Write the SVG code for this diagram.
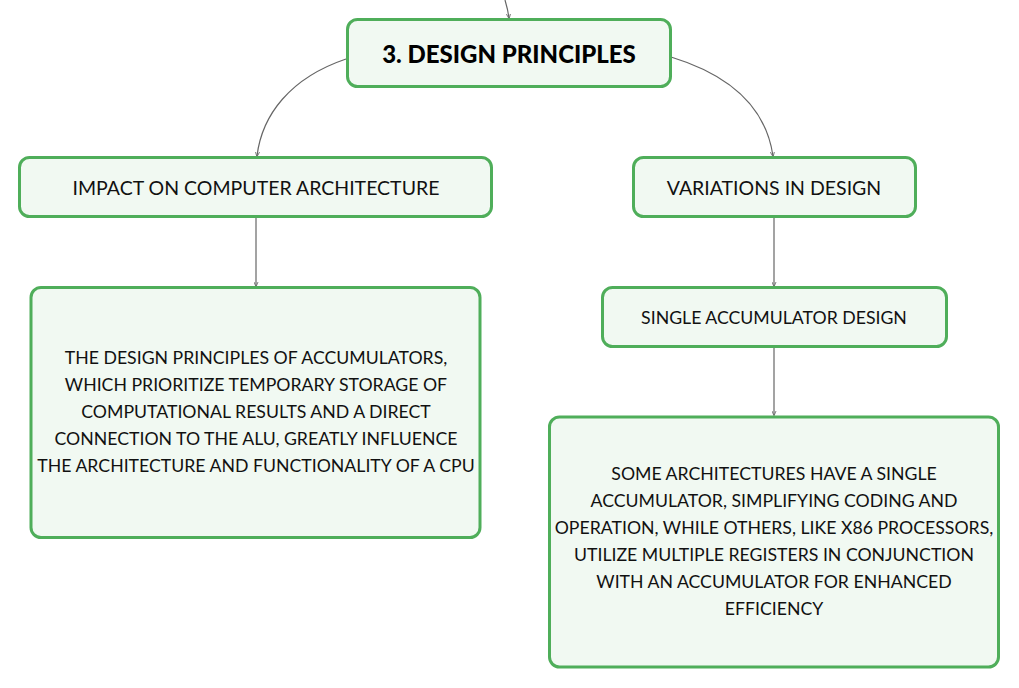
<svg xmlns="http://www.w3.org/2000/svg" width="1019" height="688" viewBox="0 0 1019 688">
<defs>
<style>
.box{fill:#f1f9f2;stroke:#4fae5a;stroke-width:3}
.t{font-family:Lato,"Noto Sans","Liberation Sans",sans-serif;font-size:17.7px;fill:#111;text-anchor:middle;dominant-baseline:central}
.h{font-size:19.5px}
.title{font-family:Lato,"Noto Sans","Liberation Sans",sans-serif;font-size:24px;font-weight:900;fill:#000;text-anchor:middle;dominant-baseline:central}
.c{fill:none;stroke:#666;stroke-width:1.2}
</style>
<marker id="ah" viewBox="0 0 6 6" refX="5" refY="3" markerWidth="5" markerHeight="5" orient="auto" markerUnits="userSpaceOnUse">
<path d="M0,0.5 L6,3 L0,5.5" fill="none" stroke="#666" stroke-width="1"/>
</marker>
</defs>
<rect width="1019" height="688" fill="#ffffff"/>
<g id="connectors">
<path class="c" d="M505,0 Q508,10 509,18" marker-end="url(#ah)"/>
<path class="c" d="M346,59 C290,78 262,115 257,156" marker-end="url(#ah)"/>
<path class="c" d="M671,57 C730,75 766,108 773,156" marker-end="url(#ah)"/>
<path class="c" d="M256,218 L256,286" marker-end="url(#ah)"/>
<path class="c" d="M774,218 L774,286" marker-end="url(#ah)"/>
<path class="c" d="M774,348 L774,415" marker-end="url(#ah)"/>
</g>
<g id="node-design-principles">
<rect class="box" x="347.5" y="19.5" width="323" height="67" rx="10"/>
<text class="title" x="509" y="53">3. DESIGN PRINCIPLES</text>
</g>
<g id="node-impact">
<rect class="box" x="19.5" y="157.5" width="472" height="59" rx="10"/>
<text class="t h" x="256" y="187">IMPACT ON COMPUTER ARCHITECTURE</text>
</g>
<g id="node-variations">
<rect class="box" x="633.5" y="157.5" width="282" height="59" rx="10"/>
<text class="t h" x="774" y="187">VARIATIONS IN DESIGN</text>
</g>
<g id="node-impact-desc">
<rect class="box" x="31" y="287.5" width="449" height="250" rx="10"/>
<text class="t" x="256" y="357">THE DESIGN PRINCIPLES OF ACCUMULATORS,</text>
<text class="t" x="256" y="384">WHICH PRIORITIZE TEMPORARY STORAGE OF</text>
<text class="t" x="256" y="411">COMPUTATIONAL RESULTS AND A DIRECT</text>
<text class="t" x="256" y="438">CONNECTION TO THE ALU, GREATLY INFLUENCE</text>
<text class="t" x="256" y="465">THE ARCHITECTURE AND FUNCTIONALITY OF A CPU</text>
</g>
<g id="node-single">
<rect class="box" x="602.5" y="287.5" width="344" height="59" rx="10"/>
<text class="t" x="774" y="317">SINGLE ACCUMULATOR DESIGN</text>
</g>
<g id="node-single-desc">
<rect class="box" x="549.5" y="417" width="449" height="250" rx="10"/>
<text class="t" x="774" y="473">SOME ARCHITECTURES HAVE A SINGLE</text>
<text class="t" x="774" y="500">ACCUMULATOR, SIMPLIFYING CODING AND</text>
<text class="t" x="774" y="527">OPERATION, WHILE OTHERS, LIKE X86 PROCESSORS,</text>
<text class="t" x="774" y="554">UTILIZE MULTIPLE REGISTERS IN CONJUNCTION</text>
<text class="t" x="774" y="581">WITH AN ACCUMULATOR FOR ENHANCED</text>
<text class="t" x="774" y="608">EFFICIENCY</text>
</g>
</svg>
